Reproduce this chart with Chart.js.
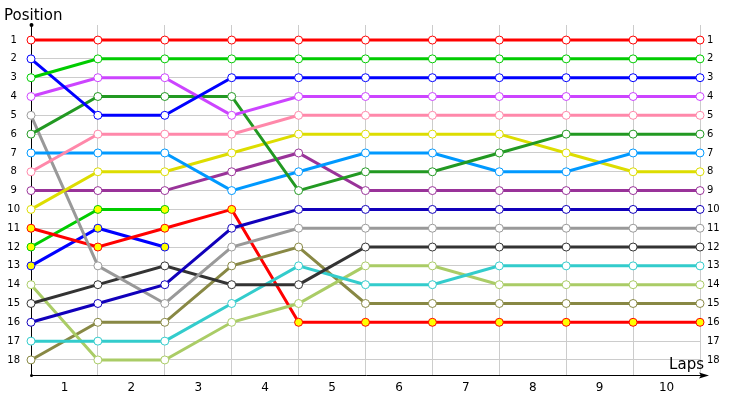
<!DOCTYPE html>
<html>
<head>
<meta charset="utf-8">
<script src="https://cdn.jsdelivr.net/npm/chart.js@4/dist/chart.umd.min.js"></script>
<style>
  html, body { margin: 0; padding: 0; background: #fff; }
  #wrap { width: 730px; height: 400px; position: relative; }
</style>
</head>
<body>
<div id="wrap"><canvas id="positions"></canvas></div>
<script>
const laps = [0, 1, 2, 3, 4, 5, 6, 7, 8, 9, 10];
const lapLabels = ['1', '2', '3', '4', '5', '6', '7', '8', '9', '10'];
const positionTicks = [1, 2, 3, 4, 5, 6, 7, 8, 9, 10, 11, 12, 13, 14, 15, 16, 17, 18];

// position of each car at the end of each lap (lap 0 = grid)
const redLeader   = [1, 1, 1, 1, 1, 1, 1, 1, 1, 1, 1];
const lime        = [3, 2, 2, 2, 2, 2, 2, 2, 2, 2, 2];
const blue        = [2, 5, 5, 3, 3, 3, 3, 3, 3, 3, 3];
const violet      = [4, 3, 3, 5, 4, 4, 4, 4, 4, 4, 4];
const pink        = [8, 6, 6, 6, 5, 5, 5, 5, 5, 5, 5];
const darkGreen   = [6, 4, 4, 4, 9, 8, 8, 7, 6, 6, 6];
const skyBlue     = [7, 7, 7, 9, 8, 7, 7, 8, 8, 7, 7];
const yellow      = [10, 8, 8, 7, 6, 6, 6, 6, 7, 8, 8];
const purple      = [9, 9, 9, 8, 7, 9, 9, 9, 9, 9, 9];
const navy        = [16, 15, 14, 11, 10, 10, 10, 10, 10, 10, 10];
const gray        = [5, 13, 15, 12, 11, 11, 11, 11, 11, 11, 11];
const charcoal    = [15, 14, 13, 14, 14, 12, 12, 12, 12, 12, 12];
const cyan        = [17, 17, 17, 15, 13, 14, 14, 13, 13, 13, 13];
const paleGreen   = [14, 18, 18, 16, 15, 13, 13, 14, 14, 14, 14];
const olive       = [18, 16, 16, 13, 12, 15, 15, 15, 15, 15, 15];
const redSlow     = [11, 12, 11, 10, 16, 16, 16, 16, 16, 16, 16];
const limeOut     = [12, 10, 10];
const blueOut     = [13, 11, 12];

const series = [
  { data: redLeader, color: '#ff0000' },
  { data: lime, color: '#00cc00' },
  { data: blue, color: '#0000ff' },
  { data: violet, color: '#cc44ff' },
  { data: pink, color: '#ff88aa' },
  { data: darkGreen, color: '#229922' },
  { data: skyBlue, color: '#0099ff' },
  { data: yellow, color: '#dddd00' },
  { data: purple, color: '#993399' },
  { data: navy, color: '#1100bb' },
  { data: gray, color: '#999999' },
  { data: charcoal, color: '#333333' },
  { data: cyan, color: '#33cccc' },
  { data: paleGreen, color: '#aacc66' },
  { data: olive, color: '#888844' },
  { data: redSlow, color: '#ff0000', fill: '#ffff00' },
  { data: limeOut, color: '#00cc00', fill: '#ffff00' },
  { data: blueOut, color: '#0000ff', fill: '#ffff00' },
];

const datasets = series.map(s => ({
  data: s.data.map((p, i) => ({ x: laps[i], y: p })),
  borderColor: s.color,
  backgroundColor: s.fill || '#ffffff',
  pointBackgroundColor: s.fill || '#ffffff',
  pointBorderColor: s.color,
  pointBorderWidth: 1,
  pointRadius: 4,
  borderWidth: 3,
  tension: 0,
  clip: false,
}));

// axis arrow, end dots and axis titles
const axisDeco = {
  id: 'axisDeco',
  beforeDatasetsDraw(chart) {
    const { ctx, chartArea: a } = chart;
    ctx.save();
    ctx.strokeStyle = '#000';
    ctx.fillStyle = '#000';
    ctx.lineWidth = 1;
    ctx.beginPath();
    ctx.moveTo(a.left + 0.5, a.top);
    ctx.lineTo(a.left + 0.5, a.bottom);
    ctx.moveTo(a.left, a.bottom + 0.5);
    ctx.lineTo(a.right + 2, a.bottom + 0.5);
    ctx.stroke();
    ctx.beginPath();
    ctx.moveTo(a.right + 9, a.bottom + 0.5);
    ctx.lineTo(a.right - 1, a.bottom - 2.5);
    ctx.lineTo(a.right + 1, a.bottom + 0.5);
    ctx.lineTo(a.right - 1, a.bottom + 3.5);
    ctx.closePath();
    ctx.fill();
    ctx.beginPath();
    ctx.arc(a.left + 0.5, a.top, 2, 0, Math.PI * 2);
    ctx.arc(a.left + 0.5, a.bottom + 0.5, 1.5, 0, Math.PI * 2);
    ctx.fill();
    ctx.font = '15px "DejaVu Sans"';
    ctx.textBaseline = 'alphabetic';
    ctx.textAlign = 'left';
    ctx.fillText('Position', 4, 20);
    ctx.textAlign = 'right';
    ctx.fillText('Laps', a.right + 4, a.bottom - 6);
    ctx.restore();
  }
};

new Chart('positions', {
  type: 'line',
  data: { datasets },
  options: {
    responsive: true,
    maintainAspectRatio: false,
    animation: false,
    layout: { padding: { top: 25, left: 0, right: 0, bottom: 0 } },
    plugins: {
      legend: { display: false },
      title: { display: false },
      tooltip: { enabled: false },
    },
    scales: {
      x: {
        type: 'linear',
        min: 0,
        max: 10,
        border: { display: false },
        grid: {
          drawTicks: false,
          color: c => (c.tick && c.tick.value % 1 === 0 && c.tick.value > 0) ? '#cccccc' : 'rgba(0,0,0,0)',
        },
        ticks: {
          stepSize: 0.5,
          autoSkip: false,
          maxRotation: 0,
          padding: 6,
          color: '#000',
          font: { family: 'DejaVu Sans', size: 12 },
          callback: v => (v % 1 === 0.5) ? lapLabels[Math.floor(v)] : '',
        },
        afterFit: axis => { axis.height = 25; },
      },
      y: {
        type: 'linear',
        position: 'left',
        reverse: true,
        min: 0.2,
        max: 18.8,
        border: { display: false },
        grid: { drawTicks: false, color: '#cccccc' },
        afterBuildTicks: axis => { axis.ticks = positionTicks.map(v => ({ value: v })); },
        ticks: {
          crossAlign: 'center',
          padding: 11,
          color: '#000',
          font: { family: 'DejaVu Sans', size: 10 },
        },
        afterFit: axis => { axis.width = 31; },
      },
      y2: {
        type: 'linear',
        position: 'right',
        reverse: true,
        min: 0.2,
        max: 18.8,
        border: { display: false },
        grid: { drawOnChartArea: false, drawTicks: false },
        afterBuildTicks: axis => { axis.ticks = positionTicks.map(v => ({ value: v })); },
        ticks: {
          padding: 7,
          color: '#000',
          font: { family: 'DejaVu Sans', size: 10 },
        },
        afterFit: axis => { axis.width = 30; },
      },
    },
  },
  plugins: [axisDeco],
});
</script>
</body>
</html>
